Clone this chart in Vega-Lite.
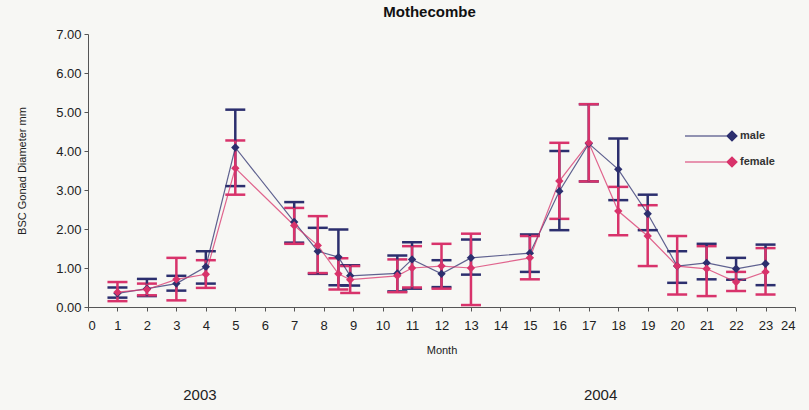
{
  "$schema": "https://vega.github.io/schema/vega-lite/v6.json",
  "autosize": {"type": "none"},
  "padding": {"left": 88, "top": 34, "right": 14, "bottom": 103},
  "width": 707,
  "height": 273,
  "background": "#f7f7f4",
  "config": {
    "font": "Liberation Sans Narrow, Liberation Sans, Arial",
    "view": {"stroke": null},
    "axis": {"domainColor": "#555", "tickColor": "#555", "labelColor": "#222", "titleColor": "#222", "grid": false, "tickSize": 4}
  },
  "title": {"text": "Mothecombe", "fontSize": 15, "fontWeight": "bold", "color": "#111", "offset": 8, "dx": -12},
  "datasets": {
    "gonad": [
      {"month": 1, "sex": "male", "value": 0.35, "lo": 0.24, "hi": 0.5},
      {"month": 2, "sex": "male", "value": 0.47, "lo": 0.28, "hi": 0.72},
      {"month": 3, "sex": "male", "value": 0.6, "lo": 0.42, "hi": 0.8},
      {"month": 4, "sex": "male", "value": 1.03, "lo": 0.6, "hi": 1.43},
      {"month": 5, "sex": "male", "value": 4.09, "lo": 3.1, "hi": 5.06},
      {"month": 7, "sex": "male", "value": 2.18, "lo": 1.65, "hi": 2.69},
      {"month": 7.8, "sex": "male", "value": 1.43, "lo": 0.85, "hi": 2.03},
      {"month": 8.5, "sex": "male", "value": 1.28, "lo": 0.56, "hi": 1.99},
      {"month": 8.9, "sex": "male", "value": 0.8, "lo": 0.55, "hi": 1.07},
      {"month": 10.5, "sex": "male", "value": 0.86, "lo": 0.4, "hi": 1.32},
      {"month": 11, "sex": "male", "value": 1.22, "lo": 0.47, "hi": 1.66},
      {"month": 12, "sex": "male", "value": 0.85, "lo": 0.51, "hi": 1.2},
      {"month": 13, "sex": "male", "value": 1.26, "lo": 0.83, "hi": 1.73},
      {"month": 15, "sex": "male", "value": 1.38, "lo": 0.9, "hi": 1.86},
      {"month": 16, "sex": "male", "value": 2.97, "lo": 1.97, "hi": 4.0},
      {"month": 17, "sex": "male", "value": 4.19, "lo": 3.22, "hi": 5.2},
      {"month": 18, "sex": "male", "value": 3.53, "lo": 2.74, "hi": 4.32},
      {"month": 19, "sex": "male", "value": 2.39, "lo": 1.97, "hi": 2.88},
      {"month": 20, "sex": "male", "value": 1.05, "lo": 0.62, "hi": 1.43},
      {"month": 21, "sex": "male", "value": 1.13, "lo": 0.71, "hi": 1.62},
      {"month": 22, "sex": "male", "value": 0.98, "lo": 0.7, "hi": 1.26},
      {"month": 23, "sex": "male", "value": 1.11, "lo": 0.56, "hi": 1.6},
      {"month": 1, "sex": "female", "value": 0.38, "lo": 0.15, "hi": 0.64},
      {"month": 2, "sex": "female", "value": 0.45, "lo": 0.3, "hi": 0.6},
      {"month": 3, "sex": "female", "value": 0.71, "lo": 0.17, "hi": 1.26},
      {"month": 4, "sex": "female", "value": 0.84, "lo": 0.49, "hi": 1.2},
      {"month": 5, "sex": "female", "value": 3.56, "lo": 2.88, "hi": 4.27},
      {"month": 7, "sex": "female", "value": 2.09, "lo": 1.62, "hi": 2.54},
      {"month": 7.8, "sex": "female", "value": 1.58, "lo": 0.87, "hi": 2.33},
      {"month": 8.5, "sex": "female", "value": 0.85, "lo": 0.45, "hi": 1.25},
      {"month": 8.9, "sex": "female", "value": 0.7, "lo": 0.36, "hi": 1.05},
      {"month": 10.5, "sex": "female", "value": 0.8, "lo": 0.38, "hi": 1.22},
      {"month": 11, "sex": "female", "value": 1.0, "lo": 0.5, "hi": 1.56},
      {"month": 12, "sex": "female", "value": 1.05, "lo": 0.47, "hi": 1.62},
      {"month": 13, "sex": "female", "value": 1.0, "lo": 0.05, "hi": 1.88},
      {"month": 15, "sex": "female", "value": 1.26, "lo": 0.71, "hi": 1.82},
      {"month": 16, "sex": "female", "value": 3.23, "lo": 2.26, "hi": 4.21},
      {"month": 17, "sex": "female", "value": 4.21, "lo": 3.22, "hi": 5.2},
      {"month": 18, "sex": "female", "value": 2.46, "lo": 1.84, "hi": 3.08},
      {"month": 19, "sex": "female", "value": 1.82, "lo": 1.05, "hi": 2.61},
      {"month": 20, "sex": "female", "value": 1.05, "lo": 0.32, "hi": 1.82},
      {"month": 21, "sex": "female", "value": 0.98, "lo": 0.28, "hi": 1.56},
      {"month": 22, "sex": "female", "value": 0.64, "lo": 0.41, "hi": 0.9},
      {"month": 23, "sex": "female", "value": 0.9, "lo": 0.32, "hi": 1.51}
    ],
    "years": [
      {"label": "2003", "month": 3.8, "value": -2.25},
      {"label": "2004", "month": 17.4, "value": -2.25}
    ]
  },
  "encoding": {
    "x": {
      "field": "month", "type": "quantitative",
      "scale": {"domain": [0, 24], "nice": false, "zero": false},
      "axis": {"values": [0,1,2,3,4,5,6,7,8,9,10,11,12,13,14,15,16,17,18,19,20,21,22,23,24], "labelOverlap": false, "labelFontSize": 13, "labelPadding": 8, "title": "Month", "titleFontSize": 11, "titleFontWeight": "normal", "titlePadding": 12}
    },
    "y": {
      "field": "value", "type": "quantitative",
      "scale": {"domain": [0, 7], "nice": false},
      "axis": {"values": [0,1,2,3,4,5,6,7], "labelOverlap": false, "format": ".2f", "labelFontSize": 13, "labelPadding": 3, "title": "BSC Gonad Diameter mm", "titleFontSize": 11, "titleFontWeight": "normal", "titlePadding": 28}
    }
  },
  "layer": [
    {
      "data": {"name": "gonad"},
      "mark": {"type": "errorbar", "opacity": 1, "ticks": {"size": 20, "thickness": 2.5, "opacity": 1}, "rule": {"strokeWidth": 2.5, "opacity": 1}},
      "encoding": {
        "y": {"field": "lo", "type": "quantitative", "scale": {"domain": [0, 7], "nice": false},
          "axis": {"values": [0,1,2,3,4,5,6,7], "labelOverlap": false, "format": ".2f", "labelFontSize": 13, "labelPadding": 3, "title": "BSC Gonad Diameter mm", "titleFontSize": 11, "titleFontWeight": "normal", "titlePadding": 28}},
        "y2": {"field": "hi"},
        "color": {"field": "sex", "type": "nominal", "scale": {"domain": ["male", "female"], "range": ["#2c2f6e", "#d8336b"]}}
      }
    },
    {
      "data": {"name": "gonad"},
      "mark": {"type": "line", "strokeWidth": 1.2, "opacity": 0.75},
      "encoding": {
        "color": {"field": "sex", "type": "nominal",
          "legend": {"orient": "none", "legendX": 638, "legendY": 96, "title": null, "labelFontSize": 11, "labelFontWeight": "bold", "labelColor": "#333", "symbolType": "M -9.4 0 L 1 0 M -1 0 L 0 -1 L 1 0 L 0 1 Z", "symbolSize": 100, "symbolStrokeWidth": 1.2, "symbolOpacity": 1, "rowPadding": 10, "labelOffset": 2,
            "encode": {"symbols": {"update": {"fill": {"scale": "color", "field": "value"}, "stroke": {"scale": "color", "field": "value"}, "opacity": {"value": 1}, "fillOpacity": {"value": 1}, "strokeOpacity": {"value": 1}}}}}}
      }
    },
    {
      "data": {"name": "gonad"},
      "mark": {"type": "point", "shape": "diamond", "filled": true, "size": 70, "opacity": 1},
      "encoding": {
        "color": {"field": "sex", "type": "nominal"}
      }
    },
    {
      "data": {"name": "years"},
      "mark": {"type": "text", "fontSize": 15, "color": "#222", "clip": false},
      "encoding": {
        "text": {"field": "label"}
      }
    }
  ]
}
